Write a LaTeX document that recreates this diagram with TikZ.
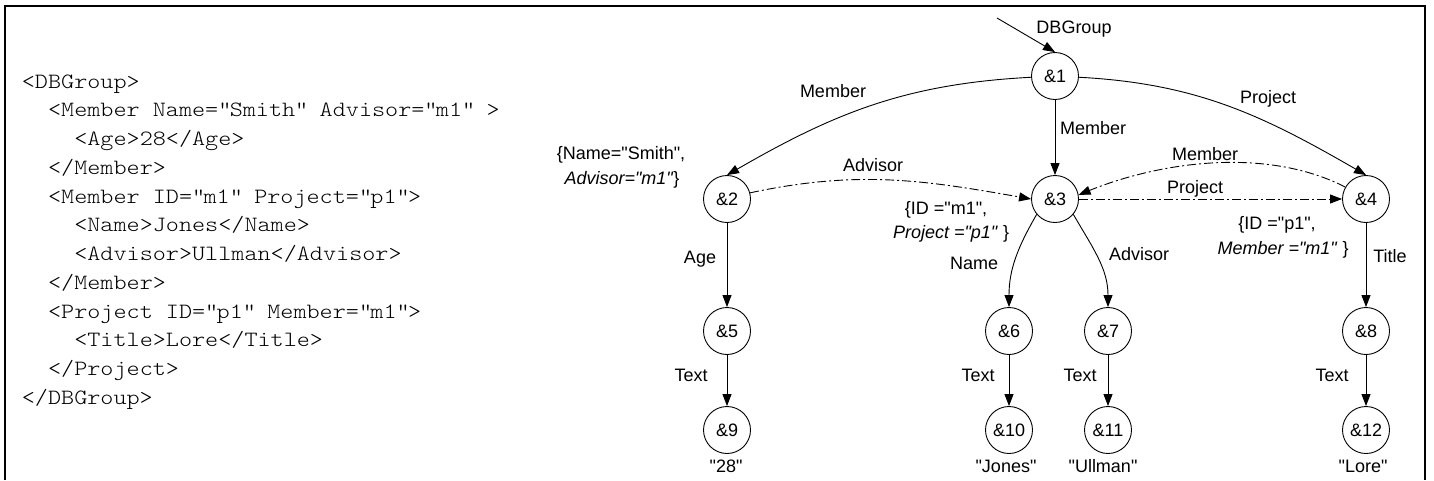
\documentclass[tikz,border=0pt]{standalone}
\usepackage{fontspec}
\setmainfont{Liberation Sans}
\newfontfamily\codefont{lmmonolt10-regular.otf}[FakeStretch=1.144]
\usetikzlibrary{arrows.meta}
\newcommand\dq{\XeTeXglyph\XeTeXcharglyph"22\relax}
\tikzset{
  nd/.style={circle, draw, line width=0.9pt, minimum size=47pt, inner sep=0pt, font=\fontsize{18}{22}\selectfont},
  lbl/.style={anchor=base, inner sep=0pt, font=\fontsize{18}{22}\selectfont},
  codeline/.style={anchor=base west, inner sep=0pt, font=\codefont\fontsize{21.8}{28}\selectfont},
  edge/.style={line width=0.9pt, -{Triangle[length=12pt,width=9pt]}},
  dashdot/.style={dash pattern=on 9pt off 3pt on 2pt off 3pt},
}
\begin{document}
\begin{tikzpicture}[x=1pt,y=1pt]
\useasboundingbox (0,0) rectangle (1434,-480);
% frame
\coordinate (fa) at (5,-480);
\coordinate (fb) at (5,-6);
\coordinate (fc) at (1425,-6);
\coordinate (fd) at (1425,-480);
\draw[line width=1.6pt] (fa) -- (fb) -- (fc) -- (fd);

% code
\node[codeline] (c1)  at (21.7,-88.2)  {<DBGroup>};
\node[codeline] (c2)  at (47.9,-116.95) {<Member Name=\dq{}Smith\dq{} Advisor=\dq{}m1\dq{} >};
\node[codeline] (c3)  at (74.1,-145.7) {<Age>28</Age>};
\node[codeline] (c4)  at (47.9,-174.45) {</Member>};
\node[codeline] (c5)  at (47.9,-203.2) {<Member ID=\dq{}m1\dq{} Project=\dq{}p1\dq{}>};
\node[codeline] (c6)  at (74.1,-231.95) {<Name>Jones</Name>};
\node[codeline] (c7)  at (74.1,-260.7) {<Advisor>Ullman</Advisor>};
\node[codeline] (c8)  at (47.9,-289.45) {</Member>};
\node[codeline] (c9)  at (47.9,-318.2) {<Project ID=\dq{}p1\dq{} Member=\dq{}m1\dq{}>};
\node[codeline] (c10) at (74.1,-346.95) {<Title>Lore</Title>};
\node[codeline] (c11) at (47.9,-375.7) {</Project>};
\node[codeline] (c12) at (21.7,-404.45) {</DBGroup>};

% graph nodes
\node[nd] (n1)  at (1055,-76)  {\&1};
\node[nd] (n2)  at (727,-199)  {\&2};
\node[nd] (n3)  at (1055,-199) {\&3};
\node[nd] (n4)  at (1366,-199) {\&4};
\node[nd] (n5)  at (727,-331)  {\&5};
\node[nd] (n6)  at (1009,-331) {\&6};
\node[nd] (n7)  at (1108,-331) {\&7};
\node[nd] (n8)  at (1366,-331) {\&8};
\node[nd] (n9)  at (727,-430)  {\&9};
\node[nd] (n10) at (1009,-430) {\&10};
\node[nd] (n11) at (1108,-430) {\&11};
\node[nd] (n12) at (1366,-430) {\&12};

% labels
\node[lbl] (lDB)   at (1074,-33.4)  {DBGroup};
\node[lbl] (lM1)   at (833,-97.4)   {Member};
\node[lbl] (lM2)   at (1093,-134.4) {Member};
\node[lbl] (lP1)   at (1268,-103.4) {Project};
\node[lbl] (lS1)   at (621,-159.4)  {\{Name=\dq{}Smith\dq{},};
\node[lbl] (lS2)   at (622,-184.4)  {\textit{Advisor=\dq{}m1\dq{}}\}};
\node[lbl] (lAdv)  at (873,-171.4)  {Advisor};
\node[lbl] (lI1)   at (946,-214.4)  {\{ID =\dq{}m1\dq{},};
\node[lbl] (lI2)   at (951,-238.4)  {\textit{Project =\dq{}p1\dq{}} \}};
\node[lbl] (lMem)  at (1205,-160.4) {Member};
\node[lbl] (lProj) at (1195,-193.4) {Project};
\node[lbl] (lJ1)   at (1277,-229.4) {\{ID =\dq{}p1\dq{},};
\node[lbl] (lJ2)   at (1283,-254.4) {\textit{Member =\dq{}m1\dq{}} \}};
\node[lbl] (lTit)  at (1390,-262.4) {Title};
\node[lbl] (lAge)  at (700,-263.4)  {Age};
\node[lbl] (lName) at (974,-269.4)  {Name};
\node[lbl] (lAd2)  at (1139,-260.4) {Advisor};
\node[lbl] (lT1)   at (691,-381.4)  {Text};
\node[lbl] (lT2)   at (978,-381.4)  {Text};
\node[lbl] (lT3)   at (1080,-381.4) {Text};
\node[lbl] (lT4)   at (1332,-381.4) {Text};
\node[lbl] (v1)    at (726,-472.4)  {\dq{}28\dq{}};
\node[lbl] (v2)    at (1006,-472.4) {\dq{}Jones\dq{}};
\node[lbl] (v3)    at (1103,-472.4) {\dq{}Ullman\dq{}};
\node[lbl] (v4)    at (1363,-472.4) {\dq{}Lore\dq{}};

% edges
\coordinate (root) at (997,-18);
\draw[edge] (root) -- (n1.north);
\draw[edge] (n1.183) to[out=183,in=30] (n2.north);
\draw[edge] (n1.-3) to[out=-3,in=150] (n4.north);
\draw[edge] (n1) -- (n3);
\draw[edge,dashdot] (n2.15) to[out=12,in=170] (n3.west);
\draw[edge,dashdot] (n4.150) to[out=153,in=22,looseness=0.85] (n3.10);
\draw[edge,dashdot] (n3.east) -- (n4.west);
\draw[edge] (n3.220) to[out=240,in=90] (n6.north);
\draw[edge] (n3.-40) to[out=-60,in=90] (n7.north);
\draw[edge] (n2) -- (n5);
\draw[edge] (n5) -- (n9);
\draw[edge] (n6) -- (n10);
\draw[edge] (n7) -- (n11);
\draw[edge] (n4) -- (n8);
\draw[edge] (n8) -- (n12);
\end{tikzpicture}
\end{document}
